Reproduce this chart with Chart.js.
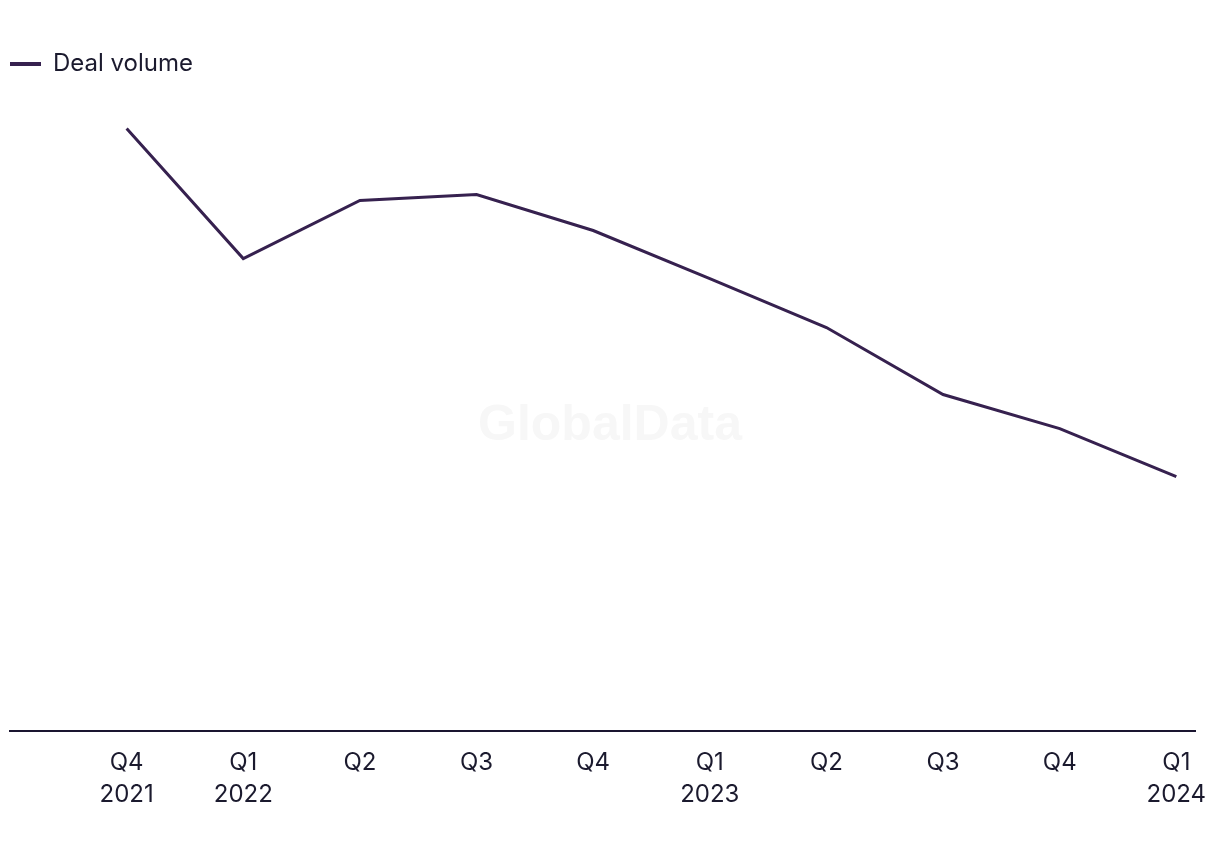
<!DOCTYPE html>
<html>
<head>
<meta charset="utf-8">
<script src="https://cdn.jsdelivr.net/npm/chart.js@4"></script>
<style>
  html, body { margin: 0; padding: 0; background: #fff; }
  #wrap { width: 1220px; height: 850px; }
</style>
</head>
<body>
<div id="wrap"><canvas id="grafico"></canvas></div>
<script>
const quarters = [['Q4', '2021'], ['Q1', '2022'], ['Q2'], ['Q3'], ['Q4'], ['Q1', '2023'], ['Q2'], ['Q3'], ['Q4'], ['Q1', '2024']];
const dealVolume = [1204, 944, 1060, 1072, 1000, 904, 806, 672, 604, 508];

const lineColor = '#36214f';
const textColor = '#1b1a2e';
const fontFamily = "Inter, 'Liberation Sans', sans-serif";

// marca d'agua no centro
const watermark = {
    id: 'watermark',
    beforeDatasetsDraw(chart) {
        const ctx = chart.ctx;
        ctx.save();
        ctx.font = "bold 50px 'Liberation Sans', Arial, sans-serif";
        ctx.fillStyle = '#f7f7f7';
        ctx.textAlign = 'center';
        ctx.textBaseline = 'middle';
        ctx.fillText('GlobalData', chart.width / 2, 426);
        ctx.restore();
    }
};

const ctx = document.getElementById('grafico').getContext('2d');

new Chart(ctx, {
    type: 'line',
    data: {
        datasets: [{
            label: 'Deal volume',
            data: dealVolume.map((v, i) => ({ x: i, y: v })),
            borderColor: lineColor,
            backgroundColor: lineColor,
            borderWidth: 3,
            tension: 0,
            pointRadius: 0,
            fill: false
        }]
    },
    plugins: [watermark],
    options: {
        responsive: true,
        maintainAspectRatio: false,
        animation: false,
        layout: {
            padding: { left: 10, right: 25, top: 52, bottom: 31 }
        },
        plugins: {
            tooltip: { enabled: false },
            legend: {
                align: 'start',
                labels: {
                    boxWidth: 31,
                    boxHeight: 4,
                    padding: 0,
                    color: textColor,
                    font: { family: fontFamily, size: 24 },
                    generateLabels: (chart) => [{
                        text: 'Deal volume',
                        fillStyle: lineColor,
                        strokeStyle: lineColor,
                        lineWidth: 0,
                        fontColor: textColor,
                        datasetIndex: 0
                    }]
                }
            }
        },
        scales: {
            x: {
                type: 'linear',
                min: -1,
                max: 9.16,
                afterBuildTicks: (axis) => {
                    axis.ticks = quarters.map((q, i) => ({ value: i }));
                },
                grid: { display: false },
                border: { display: true, color: '#1a1530', width: 2 },
                ticks: {
                    autoSkip: false,
                    maxRotation: 0,
                    padding: 9,
                    color: textColor,
                    font: { family: fontFamily, size: 24, lineHeight: 1.3 },
                    callback: (value) => quarters[value]
                }
            },
            y: {
                display: false,
                min: 0,
                max: 1289
            }
        }
    }
});
</script>
</body>
</html>
